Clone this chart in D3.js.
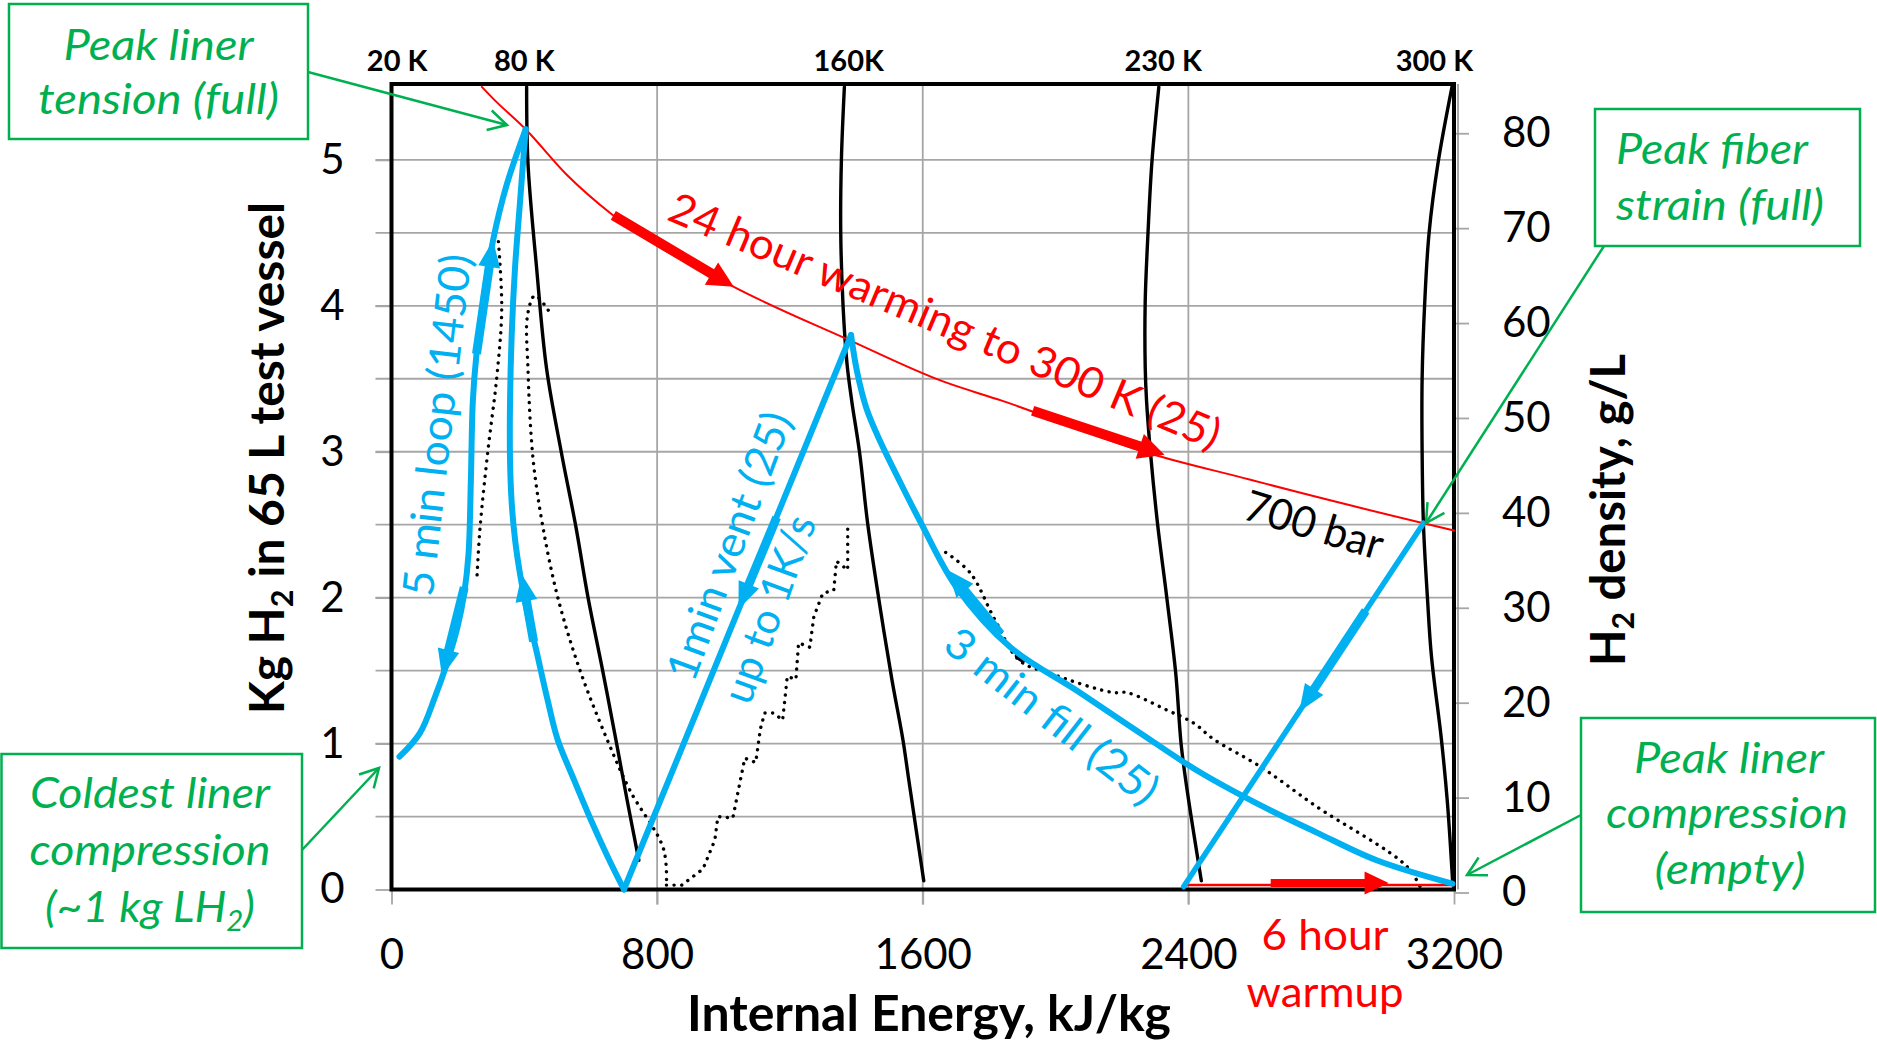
<!DOCTYPE html>
<html>
<head>
<meta charset="utf-8">
<script src="https://cdn.jsdelivr.net/npm/d3@7"></script>
<style>
  html, body { margin: 0; padding: 0; background: #fff; }
  svg { display: block; font-family: Lato, "Open Sans", sans-serif; }
</style>
</head>
<body>
<svg id="chart" width="1877" height="1046"></svg>
<script>
// ---- axis ticks ----
const energyTicks = [0, 800, 1600, 2400, 3200];
const energyGrid = [800, 1600, 2400];
const massTicks = [0, 1, 2, 3, 4, 5];
const massGrid = [0.5, 1, 1.5, 2, 2.5, 3, 3.5, 4, 4.5, 5];
const densityTicks = [0, 10, 20, 30, 40, 50, 60, 70, 80];

// ---- isotherm tags along the top edge [label, internal energy kJ/kg] ----
const isothermTags = [["20 K", 17], ["80 K", 400], ["160K", 1377], ["230 K", 2324], ["300 K", 3141]];

// ---- isotherms [internal energy kJ/kg, kg H2] ----
const iso80 = [[407,5.5],[411,4.98],[437,4.26],[467,3.57],[512,2.99],[555,2.49],[592,2.0],[636,1.5],[678,1.0],[709,0.62],[745,0.2]];
const iso160 = [[1364,5.5],[1355,5.0],[1353,4.5],[1360,4.0],[1372,3.6],[1386,3.35],[1410,2.99],[1434,2.51],[1467,2.0],[1507,1.44],[1540,1.03],[1558,0.75],[1603,0.06]];
const iso230 = [[2311,5.5],[2290,4.98],[2278,4.48],[2270,4.03],[2270,3.58],[2274,3.35],[2286,2.99],[2307,2.51],[2335,2.0],[2362,1.48],[2378,1.0],[2395,0.7],[2439,0.06]];
const iso300 = [[3194,5.5],[3152,4.98],[3125,4.5],[3112,4.03],[3104,3.5],[3104,3.0],[3108,2.5],[3120,2.0],[3132,1.6],[3162,1.03],[3180,0.6],[3196,0.05]];

// ---- 700 bar line and warmup line ----
const bar700 = [[272,5.5],[306,5.42],[404,5.21],[527,4.9],[667,4.62],[1031,4.13],[1374,3.77],[1663,3.48],[1838,3.35],[2281,2.99],[2584,2.81],[2735,2.72],[3108,2.51],[3200,2.46]];
const warmup = [[2386,0.03],[3200,0.03]];

// ---- measured cycles ----
const loopUp = [[24,0.91],[85,1.07],[131,1.32],[164,1.53],[199,1.80],[219,2.03],[232,2.30],[239,2.80],[245,3.35],[256,3.67],[276,4.03],[306,4.45],[347,4.83],[404,5.21]];
const loopDown = [[404,5.21],[387,4.71],[372,4.26],[362,3.80],[357,3.35],[357,2.94],[362,2.65],[372,2.40],[388,2.15],[407,1.92],[434,1.66],[470,1.30],[500,1.03],[550,0.75],[600,0.48],[650,0.23],[700,0.0]];
const vent = [[1384,3.80],[700,0.0]];
const fill = [[1384,3.80],[1402,3.55],[1430,3.30],[1470,3.08],[1530,2.80],[1595,2.51],[1702,2.07],[1864,1.66],[2066,1.36],[2250,1.08],[2430,0.81],[2606,0.59],[2787,0.39],[2967,0.20],[3195,0.04]];
const fiberPath = [[3108,2.51],[2386,0.02]];

// ---- liner temperature traces (dotted) ----
const linerA = [[322,4.44],[332,3.98],[317,3.51],[290,3.0],[266,2.46],[257,2.12]];
const linerB = [[472,3.97],[432,4.07],[410,3.94],[411,3.57],[426,2.96],[454,2.51],[501,2.0],[568,1.50],[649,1.03],[718,0.68],[819,0.28],[828,0.03]];
const linerStair = [[828,0.03],[874,0.03],[938,0.14],[974,0.34],[983,0.5],[1028,0.49],[1064,0.90],[1097,0.87],[1111,1.10],[1124,1.21],[1151,1.21],[1178,1.16],[1192,1.46],[1218,1.44],[1226,1.69],[1260,1.66],[1272,1.87],[1299,2.03],[1332,2.05],[1340,2.25],[1374,2.19],[1374,2.51]];
const linerC = [[1669,2.31],[1743,2.17],[1817,1.85],[1891,1.57],[1985,1.48],[2172,1.35],[2214,1.35],[2335,1.23],[2416,1.14],[2476,1.03],[2618,0.84],[2785,0.57],[3057,0.16],[3102,0.0]];
const linerCluster = [[1884,1.60],[1893,1.58],[1902,1.57]];

// ---- direction arrows [from, to] ----
const blueArrows = [
  [[256,3.67],[306,4.45]],
  [[219,2.07],[152,1.46]],
  [[428,1.70],[392,2.16]],
  [[1160,2.55],[1045,1.92]],
  [[1835,1.75],[1675,2.19]],
  [[2934,1.91],[2734,1.22]]
];
const redArrows = [
  [[668,4.62],[1031,4.13]],
  [[1931,3.28],[2328,2.98]]
];
const warmArrow = [[2648,0.045],[3003,0.045]];

// ---- scales ----
const W = 1877, H = 1046;
const x = d3.scaleLinear().domain([0, 3200]).range([391.5, 1454]);
const y = d3.scaleLinear().domain([0, 5.52]).range([889.5, 84]);
const yR = d3.scaleLinear().domain([0, 85]).range([892.5, 85.8]);

const BLUE = "#00b0f0", RED = "#ff0000", GREEN = "#00b050", GRID = "#a6a6a6";

const svg = d3.select("#chart");
svg.append("rect").attr("width", W).attr("height", H).attr("fill", "#fff");

// ---- grid ----
const grid = svg.append("g");
grid.selectAll("line.h").data(massGrid).join("line")
  .attr("x1", x(0) - 16).attr("x2", x(3200))
  .attr("y1", d => y(d)).attr("y2", d => y(d))
  .attr("stroke", GRID).attr("stroke-width", 1.8);
grid.selectAll("line.v").data(energyGrid).join("line")
  .attr("x1", d => x(d)).attr("x2", d => x(d))
  .attr("y1", y(5.52)).attr("y2", y(0) + 15)
  .attr("stroke", GRID).attr("stroke-width", 1.8);

// ---- axes ----
function styleAxis(g, size) {
  g.select(".domain").remove();
  g.selectAll(".tick line").attr("stroke", GRID).attr("stroke-width", 1.8);
  g.selectAll(".tick text").attr("fill", "#000").attr("font-size", size)
    .attr("font-family", "Lato, 'Open Sans', sans-serif");
}
const axL = svg.append("g").attr("transform", `translate(${x(0)},0)`)
  .call(d3.axisLeft(y).tickValues(massTicks).tickSize(16).tickPadding(31).tickFormat(d3.format("d")));
styleAxis(axL, 42);
const axB = svg.append("g").attr("transform", `translate(0,${y(0)})`)
  .call(d3.axisBottom(x).tickValues(energyTicks).tickSize(15).tickPadding(35).tickFormat(d3.format("d")));
styleAxis(axB, 42);
const axR = svg.append("g").attr("transform", `translate(${x(3200)},0)`)
  .call(d3.axisRight(yR).tickValues(densityTicks).tickSize(15).tickPadding(33).tickFormat(d3.format("d")));
styleAxis(axR, 42);

// ---- plot frame ----
svg.append("line")
  .attr("x1", x(3200) + 4).attr("x2", x(3200) + 4).attr("y1", y(5.52)).attr("y2", y(0))
  .attr("stroke", "#8c8c8c").attr("stroke-width", 1.5);
svg.append("rect")
  .attr("x", x(0)).attr("y", y(5.52))
  .attr("width", x(3200) - x(0)).attr("height", y(0) - y(5.52))
  .attr("fill", "none").attr("stroke", "#000").attr("stroke-width", 4);

// ---- line generators ----
const smooth = d3.line().x(d => x(d[0])).y(d => y(d[1])).curve(d3.curveCatmullRom.alpha(0.5));
const straight = d3.line().x(d => x(d[0])).y(d => y(d[1]));
const monoX = d3.line().x(d => x(d[0])).y(d => y(d[1])).curve(d3.curveMonotoneX);

const marks = svg.append("g").attr("fill", "none").attr("stroke-linecap", "round").attr("stroke-linejoin", "round");

// isotherms
[iso80, iso160, iso230, iso300].forEach(s => {
  marks.append("path").attr("d", smooth(s)).attr("stroke", "#000").attr("stroke-width", 3.4);
});

// liner traces
[linerA, linerB, linerC].forEach(s => {
  marks.append("path").attr("d", smooth(s)).attr("stroke", "#000").attr("stroke-width", 3.4)
    .attr("stroke-dasharray", "0.1 7.5");
});
marks.append("path").attr("d", straight(linerStair)).attr("stroke", "#000").attr("stroke-width", 3.4)
  .attr("stroke-dasharray", "0.1 7.5");
marks.append("path").attr("d", straight(linerCluster)).attr("stroke", "#000").attr("stroke-width", 4.5);

// 700 bar and warmup lines
marks.append("path").attr("d", monoX(bar700)).attr("stroke", RED).attr("stroke-width", 2);
marks.append("path").attr("d", straight(warmup)).attr("stroke", RED).attr("stroke-width", 2.5);

// cycles
marks.append("path").attr("d", smooth(loopUp)).attr("stroke", BLUE).attr("stroke-width", 6);
marks.append("path").attr("d", smooth(loopDown)).attr("stroke", BLUE).attr("stroke-width", 6);
marks.append("path").attr("d", straight(vent)).attr("stroke", BLUE).attr("stroke-width", 6);
marks.append("path").attr("d", smooth(fill)).attr("stroke", BLUE).attr("stroke-width", 6);
marks.append("path").attr("d", straight(fiberPath)).attr("stroke", BLUE).attr("stroke-width", 5.5);

// arrows
const arrowG = svg.append("g");
function arrow(from, to, color, shaftW, headL, headW) {
  const x0 = x(from[0]), y0 = y(from[1]), x1 = x(to[0]), y1 = y(to[1]);
  const dx = x1 - x0, dy = y1 - y0, len = Math.hypot(dx, dy);
  const ux = dx / len, uy = dy / len;
  const bx = x1 - ux * headL, by = y1 - uy * headL;
  arrowG.append("line")
    .attr("x1", x0).attr("y1", y0).attr("x2", bx + ux * 2).attr("y2", by + uy * 2)
    .attr("stroke", color).attr("stroke-width", shaftW);
  arrowG.append("path")
    .attr("d", `M${x1},${y1}L${bx - uy * headW / 2},${by + ux * headW / 2}L${bx + uy * headW / 2},${by - ux * headW / 2}Z`)
    .attr("fill", color);
}
blueArrows.forEach(a => arrow(a[0], a[1], BLUE, 9, 27, 22));
redArrows.forEach(a => arrow(a[0], a[1], RED, 10, 26, 26));
arrow(warmArrow[0], warmArrow[1], RED, 8, 24, 23);

// ---- text helpers ----
const FONT = "Lato, 'Open Sans', sans-serif";
function rotLabel(text, cx, cy, angle, len, color, size) {
  svg.append("text")
    .attr("transform", `translate(${cx},${cy}) rotate(${angle})`)
    .attr("text-anchor", "middle").attr("dy", "0.35em")
    .attr("font-family", FONT).attr("font-size", size || 43).attr("fill", color)
    .attr("textLength", len).attr("lengthAdjust", "spacingAndGlyphs")
    .text(text);
}
function plainLabel(text, px, py, len, color, opts) {
  opts = opts || {};
  return svg.append("text")
    .attr("x", px).attr("y", py)
    .attr("text-anchor", opts.anchor || "middle")
    .attr("font-family", FONT).attr("font-size", opts.size || 43)
    .attr("font-style", opts.italic ? "italic" : "normal")
    .attr("font-weight", opts.bold ? "bold" : "normal")
    .attr("fill", color)
    .attr("textLength", len).attr("lengthAdjust", "spacingAndGlyphs")
    .text(text);
}

// isotherm tags
svg.append("g").selectAll("text").data(isothermTags).join("text")
  .attr("x", d => x(d[1])).attr("y", 71)
  .attr("text-anchor", "middle").attr("font-family", FONT)
  .attr("font-weight", "bold").attr("font-size", 29).attr("fill", "#000")
  .text(d => d[0]);

// curve annotations
rotLabel("5 min loop (1450)", 437, 425, -83.5, 344, BLUE);
rotLabel("1min vent (25)", 729, 546, -69.5, 283, BLUE);
rotLabel("up to 1K/s", 769, 609, -70, 196, BLUE);
rotLabel("3 min fill (25)", 1052, 716, 38, 258, BLUE);
rotLabel("24 hour warming to 300 K (25)", 945, 321, 22.9, 594, RED);
rotLabel("700 bar", 1314, 525, 17, 143, "#000");
plainLabel("6 hour", 1325, 950, 127, RED, { size: 42 });
plainLabel("warmup", 1325, 1007, 157, RED, { size: 42 });

// axis titles
plainLabel("Internal Energy, kJ/kg", 929, 1031, 484, "#000", { bold: true, size: 49 });

const yTitle = svg.append("text")
  .attr("transform", "translate(284,458) rotate(-90)")
  .attr("text-anchor", "middle").attr("font-family", FONT)
  .attr("font-weight", "bold").attr("font-size", 47).attr("fill", "#000")
  .attr("textLength", 512).attr("lengthAdjust", "spacingAndGlyphs");
yTitle.append("tspan").text("Kg H");
yTitle.append("tspan").attr("font-size", 30).attr("dy", 9).text("2");
yTitle.append("tspan").attr("dy", -9).text(" in 65 L test vessel");

const rTitle = svg.append("text")
  .attr("transform", "translate(1625,510) rotate(-90)")
  .attr("text-anchor", "middle").attr("font-family", FONT)
  .attr("font-weight", "bold").attr("font-size", 47).attr("fill", "#000")
  .attr("textLength", 312).attr("lengthAdjust", "spacingAndGlyphs");
rTitle.append("tspan").text("H");
rTitle.append("tspan").attr("font-size", 30).attr("dy", 9).text("2");
rTitle.append("tspan").attr("dy", -9).text(" density, g/L");

// ---- callout boxes ----
const callouts = svg.append("g");
function box(x0, y0, x1, y1) {
  callouts.append("rect").attr("x", x0).attr("y", y0)
    .attr("width", x1 - x0).attr("height", y1 - y0)
    .attr("fill", "#fff").attr("stroke", GREEN).attr("stroke-width", 2.5);
}
function pointer(x0, y0, x1, y1, head) {
  callouts.append("line").attr("x1", x0).attr("y1", y0).attr("x2", x1).attr("y2", y1)
    .attr("stroke", GREEN).attr("stroke-width", 2.5);
  if (head) {
    const a = Math.atan2(y1 - y0, x1 - x0), L = 21, s = 0.5;
    const p1 = [x1 - L * Math.cos(a - s), y1 - L * Math.sin(a - s)];
    const p2 = [x1 - L * Math.cos(a + s), y1 - L * Math.sin(a + s)];
    callouts.append("path").attr("d", `M${p1[0]},${p1[1]}L${x1},${y1}L${p2[0]},${p2[1]}`)
      .attr("fill", "none").attr("stroke", GREEN).attr("stroke-width", 2.5);
  }
}

box(9, 4, 308, 139);
plainLabel("Peak liner", 158.5, 59.5, 190, GREEN, { italic: true });
plainLabel("tension (full)", 158.5, 114, 241, GREEN, { italic: true });
pointer(308, 72, 507, 125, true);

box(1595, 109, 1860, 246);
plainLabel("Peak fiber", 1616, 164, 192, GREEN, { italic: true, anchor: "start" });
plainLabel("strain (full)", 1616, 220, 208, GREEN, { italic: true, anchor: "start" });
pointer(1604, 246, 1426, 523, true);

box(1.5, 754, 302, 948);
plainLabel("Coldest liner", 150, 808, 240, GREEN, { italic: true });
plainLabel("compression", 150, 865, 241, GREEN, { italic: true });
const lh2 = svg.append("text").attr("x", 150).attr("y", 922)
  .attr("text-anchor", "middle").attr("font-family", FONT).attr("font-size", 43)
  .attr("font-style", "italic").attr("fill", GREEN)
  .attr("textLength", 210).attr("lengthAdjust", "spacingAndGlyphs");
lh2.append("tspan").text("(~1 kg LH");
lh2.append("tspan").attr("font-size", 28).attr("dy", 9).text("2");
lh2.append("tspan").attr("dy", -9).text(")");
pointer(302, 850, 379, 768, true);

box(1581, 718, 1875, 912);
plainLabel("Peak liner", 1729, 773, 190, GREEN, { italic: true });
plainLabel("compression", 1727, 828, 242, GREEN, { italic: true });
plainLabel("(empty)", 1730, 884, 151, GREEN, { italic: true });
pointer(1581, 815, 1467, 875, true);
</script>
</body>
</html>
